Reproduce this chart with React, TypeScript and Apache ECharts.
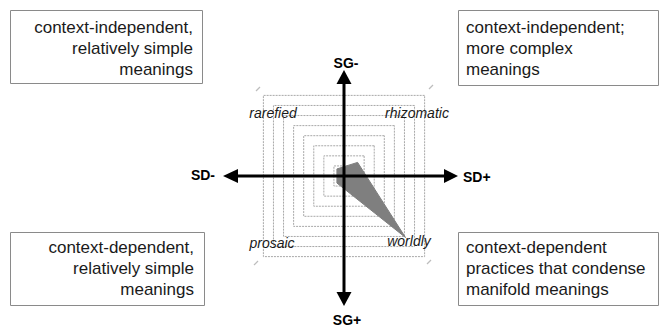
import React, { useEffect, useRef } from "react";
import * as echarts from "echarts";

// Radar indicators (corners of the square, counter-clockwise from upper right)
const indicators = ["rhizomatic", "rarefied", "prosaic", "worldly"];
const indicatorMax = 8;
const profileValues = [1.35, 0.7, 0.7, 6.1];

// Axis labels
const axisLabels = { top: "SG-", bottom: "SG+", left: "SD-", right: "SD+" };

// Quadrant descriptions
const quadrantTopLeft = ["context-independent,", "relatively simple", "meanings"];
const quadrantTopRight = ["context-independent;", "more complex", "meanings"];
const quadrantBottomLeft = ["context-dependent,", "relatively simple", "meanings"];
const quadrantBottomRight = ["context-dependent", "practices that condense", "manifold meanings"];

const FONT = "'Liberation Sans', Arial, sans-serif";

export default function App() {
  const ref = useRef<HTMLDivElement>(null);

  useEffect(() => {
    if (!ref.current) return;
    const chart = echarts.init(ref.current, undefined, { renderer: "svg" });
    const cx = 344;
    const cy = 176;

    const black = "#000";
    const boxStroke = "#8a8a8a";
    const textColor = "#1a1a1a";

    const box = (x: number, y: number, w: number, h: number) => ({
      type: "rect",
      shape: { x: x + 0.5, y: y + 0.5, width: w, height: h },
      style: { fill: "#fff", stroke: boxStroke, lineWidth: 1 },
      z: 5,
    });
    const boxText = (x: number, y: number, lines: string[], align: string) => ({
      type: "text",
      x,
      y,
      style: {
        text: lines.join("\n"),
        font: `17px ${FONT}`,
        fill: textColor,
        align,
        verticalAlign: "top",
        lineHeight: 21,
      },
      z: 6,
    });
    const cornerLabel = (x: number, y: number, t: string) => ({
      type: "text",
      x,
      y,
      style: {
        text: t,
        font: `italic 14px ${FONT}`,
        fill: "#1a1a1a",
        align: "center",
        verticalAlign: "middle",
      },
      z: 20,
    });
    const axisText = (x: number, y: number, t: string, align: string) => ({
      type: "text",
      x,
      y,
      style: {
        text: t,
        font: `bold 14px ${FONT}`,
        fill: black,
        align,
        verticalAlign: "middle",
      },
      z: 20,
    });
    const tick = (x1: number, y1: number, x2: number, y2: number) => ({
      type: "line",
      shape: { x1, y1, x2, y2 },
      style: { stroke: "#bdbdbd", lineWidth: 1.2 },
      z: 3,
    });

    chart.setOption({
      animation: false,
      backgroundColor: "#fff",
      radar: {
        center: [cx, cy],
        radius: 114,
        startAngle: 45,
        shape: "polygon",
        splitNumber: 8,
        indicator: indicators.map((n) => ({ name: n, max: indicatorMax, min: 0 })),
        axisName: { show: false },
        axisLine: { show: false },
        axisTick: { show: false },
        axisLabel: { show: false },
        splitArea: { show: false },
        splitLine: {
          lineStyle: { color: "#a8a8a8", width: 1, type: [2, 1] },
        },
      },
      series: [
        {
          type: "radar",
          symbol: "none",
          lineStyle: { color: "#7a7a7a", width: 1 },
          areaStyle: { color: "#7f7f7f", opacity: 1 },
          data: [{ value: profileValues, name: "profile" }],
          z: 4,
        },
      ],
      graphic: [
        // Quadrant boxes
        box(10, 10, 192, 73),
        boxText(193, 17, quadrantTopLeft, "right"),
        box(458, 10, 200, 75),
        boxText(466, 17, quadrantTopRight, "left"),
        box(10, 232, 194, 73),
        boxText(194, 237, quadrantBottomLeft, "right"),
        box(458, 232, 200, 73),
        boxText(466, 237, quadrantBottomRight, "left"),
        // small corner marks
        tick(256, 91, 260, 87),
        tick(429, 89, 433, 85),
        tick(254, 265, 258, 261),
        tick(427, 264, 431, 260),
        // Corner labels
        cornerLabel(273, 113, indicators[1]),
        cornerLabel(417, 113, indicators[0]),
        cornerLabel(272, 243, indicators[2]),
        cornerLabel(409, 241, indicators[3]),
        // Axes
        {
          type: "line",
          shape: { x1: 236, y1: cy, x2: 447, y2: cy },
          style: { stroke: black, lineWidth: 3 },
          z: 30,
        },
        {
          type: "line",
          shape: { x1: cx, y1: 82, x2: cx, y2: 295 },
          style: { stroke: black, lineWidth: 3 },
          z: 30,
        },
        {
          type: "polygon",
          shape: { points: [[223, cy], [238, cy - 7], [238, cy + 7]] },
          style: { fill: black },
          z: 30,
        },
        {
          type: "polygon",
          shape: { points: [[458, cy], [444, cy - 7], [444, cy + 7]] },
          style: { fill: black },
          z: 30,
        },
        {
          type: "polygon",
          shape: { points: [[cx, 70], [cx - 7.5, 84], [cx + 7.5, 84]] },
          style: { fill: black },
          z: 30,
        },
        {
          type: "polygon",
          shape: { points: [[cx, 306], [cx - 7.5, 292], [cx + 7.5, 292]] },
          style: { fill: black },
          z: 30,
        },
        axisText(cx + 2, 63, axisLabels.top, "center"),
        axisText(cx + 3, 320, axisLabels.bottom, "center"),
        axisText(215, 175, axisLabels.left, "right"),
        axisText(463, 177, axisLabels.right, "left"),
      ],
    });
    return () => chart.dispose();
  }, []);

  return (
    <div
      ref={ref}
      style={{ position: "absolute", left: 0, top: 0, width: 662, height: 329 }}
    />
  );
}
